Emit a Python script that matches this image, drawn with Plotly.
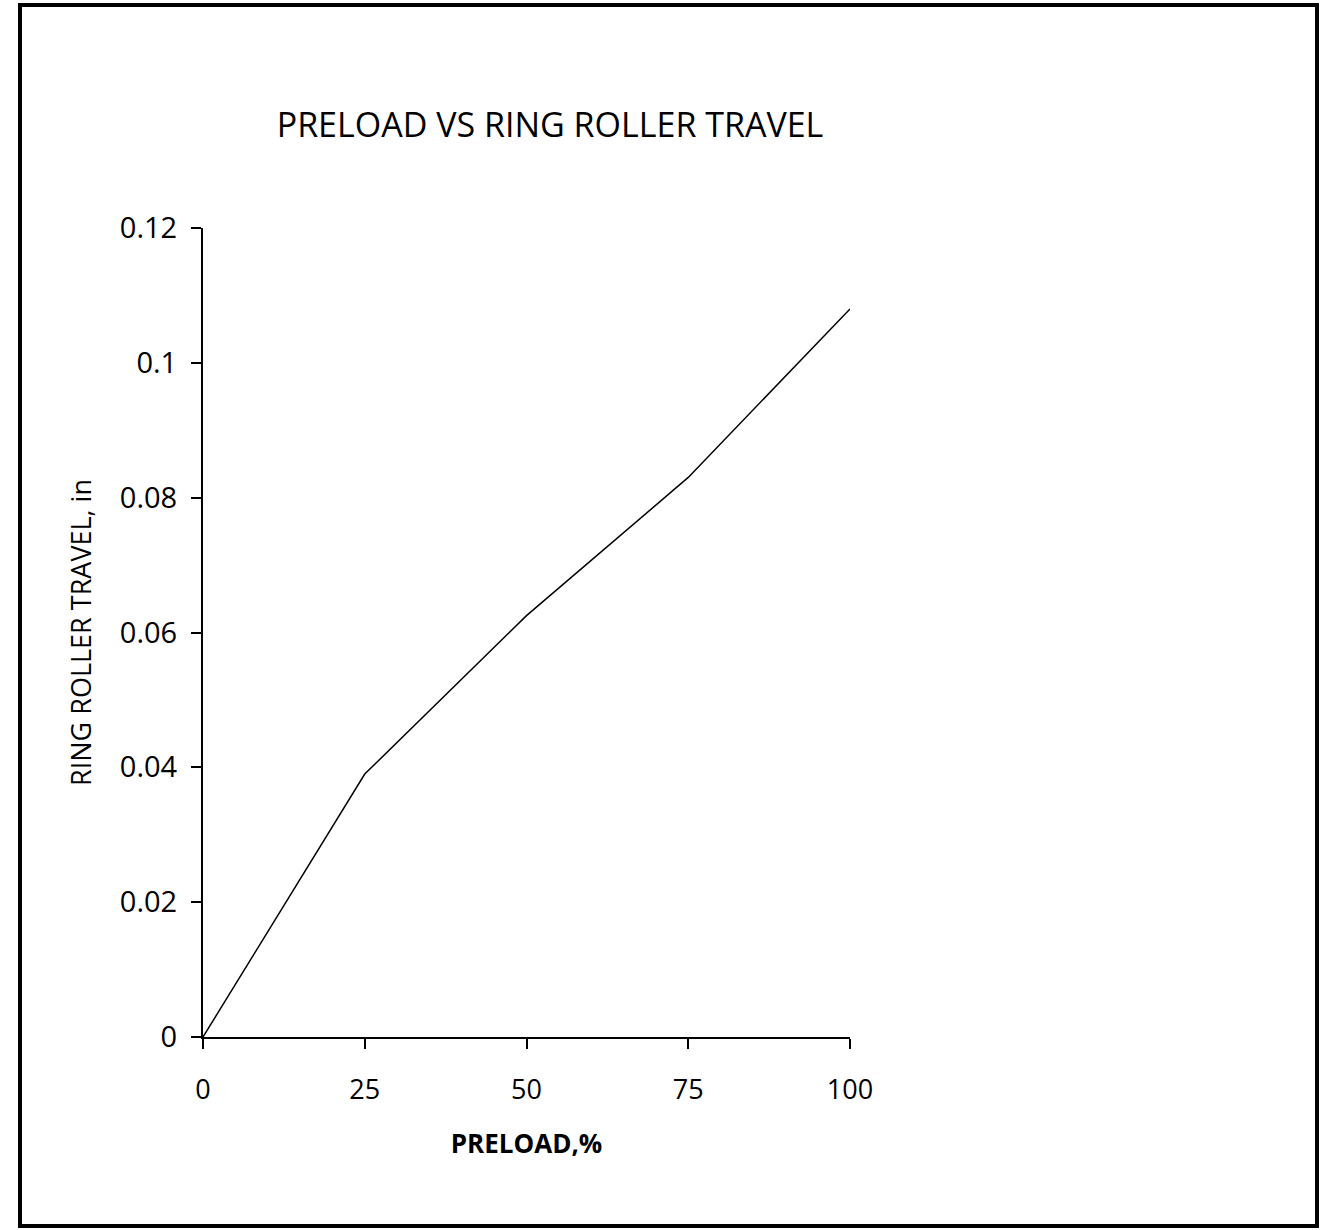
import plotly.graph_objects as go

preload = [0, 25, 50, 75, 100]
travel = [0.0, 0.039, 0.0625, 0.083, 0.108]
x_ticks = [0, 25, 50, 75, 100]
y_ticks = [0, 0.02, 0.04, 0.06, 0.08, 0.1, 0.12]
y_tick_labels = ["0", "0.02", "0.04", "0.06", "0.08", "0.1", "0.12"]

FONT = "Open Sans, Lato, sans-serif"

W, H = 1333, 1230
L, R, T, B = 203, 483, 228, 193
PW, PH = W - L - R, H - T - B

fig = go.Figure()
fig.add_trace(go.Scatter(x=preload, y=travel, mode="lines",
                         line=dict(color="black", width=1.5), showlegend=False))

fig.update_layout(
    width=W, height=H,
    paper_bgcolor="white", plot_bgcolor="white",
    margin=dict(l=L, r=R, t=T, b=B),
    font=dict(family=FONT, color="black"),
    title=dict(text="PRELOAD VS RING ROLLER TRAVEL", x=550 / W, xanchor="center",
               y=1 - 125 / H, yanchor="middle",
               font=dict(size=34, family=FONT, color="black")),
    xaxis=dict(range=[0, 100], tickvals=x_ticks, ticktext=[str(v) for v in x_ticks],
               showgrid=False, zeroline=False, showline=True, linecolor="black", linewidth=2,
               ticks="outside", ticklen=10, tickwidth=1.5, tickcolor="black",
               ticklabelstandoff=18,
               tickfont=dict(size=27, family=FONT),
               title=dict(text="<b>PRELOAD,%</b>", standoff=28,
                          font=dict(size=26, family=FONT))),
    yaxis=dict(range=[0, 0.12], tickvals=y_ticks, ticktext=y_tick_labels,
               showgrid=False, zeroline=False, showline=True, linecolor="black", linewidth=2,
               ticks="outside", ticklen=10, tickwidth=1.5, tickcolor="black",
               ticklabelstandoff=8,
               tickfont=dict(size=29, family=FONT),
               title=dict(text="RING ROLLER TRAVEL, in", standoff=20,
                          font=dict(size=27, family=FONT))),
    shapes=[dict(type="rect", xref="paper", yref="paper",
                 x0=(20 - L) / PW, x1=(1317 - L) / PW,
                 y0=-(1226 - (H - B)) / PH, y1=1 + (T - 5) / PH,
                 line=dict(color="black", width=4), fillcolor="rgba(0,0,0,0)")],
)

fig.write_html("out.html", config={"displayModeBar": False},
               post_script="document.body.style.margin='0';document.body.style.overflow='hidden';")
